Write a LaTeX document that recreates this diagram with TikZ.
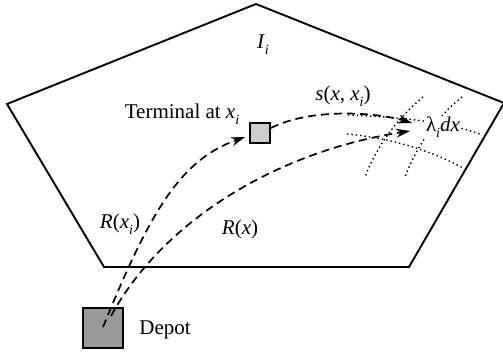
\documentclass[tikz,border=0pt]{standalone}
\usepackage{fontspec}
\setmainfont{Liberation Serif}
\usetikzlibrary{arrows.meta}
\newcommand\sbi[1]{\raisebox{-0.28em}{\fontsize{14}{14}\selectfont\textit{#1}}}
\tikzset{
  region/.style={line width=1.9pt, line join=miter},
  boxnode/.style={draw, line width=1.7pt, minimum size=#1, inner sep=0pt},
  route/.style={line width=1.7pt, dash pattern=on 8pt off 5pt, -{Stealth[length=14pt,width=9pt,inset=4.5pt]}},
  grid/.style={line width=1.4pt, dash pattern=on 1.4pt off 3pt},
  lbl/.style={inner sep=0pt, font=\fontsize{21}{25}\selectfont},
}
\begin{document}
\begin{tikzpicture}[x=1pt,y=-1pt]
\useasboundingbox (0,0) rectangle (503,353);
% region
\draw[region] (256,4) -- (504,103) -- (409,267) -- (104,267) -- (7,104) -- cycle;
\node[lbl] (Ii) at (263,45) {\textit{I}\sbi{i}};
% boxes
\node[boxnode=20pt, fill=black!20] (term) at (260,133) {};
\node[boxnode=40pt, fill=black!40] (depot) at (103,328) {};
\node[lbl] (tlab) at (182,114) {Terminal at \textit{x}\sbi{i}};
\node[lbl] (dlab) at (165,330) {Depot};
% grid lines
\draw[grid] (348,115) .. controls (400,117) and (450,122) .. (482,135);
\draw[grid] (347,134) .. controls (390,138) and (430,150) .. (463,168);
\draw[grid] (423,97) .. controls (395,120) and (375,150) .. (365,177);
\draw[grid] (462,97) .. controls (435,118) and (415,150) .. (405,177);
\node[lbl, fill=white, inner sep=1pt] (lam) at (443,127) {λ\sbi{i}\textit{dx}};
% coordinates
\coordinate (s1) at (103,327);
\coordinate (s2) at (111,316);
\coordinate (e1) at (245,137);
\coordinate (e2) at (410,131);
\coordinate (e3) at (412,123);
\coordinate (t1) at (271,128);
% routes
\draw[route] (s1) .. controls (150,212) and (180,160) .. (e1);
\draw[route] (s2) .. controls (162,222) and (275,152) .. (e2);
\draw[route] (t1) .. controls (310,108) and (375,112) .. (e3);
% labels
\node[lbl] (sl) at (343,96) {\textit{s}(\textit{x}, \textit{x}\sbi{i})};
\node[lbl] (r1) at (120,224) {\textit{R}(\textit{x}\sbi{i})};
\node[lbl] (r2) at (240,229) {\textit{R}(\textit{x})};
\end{tikzpicture}
\end{document}
